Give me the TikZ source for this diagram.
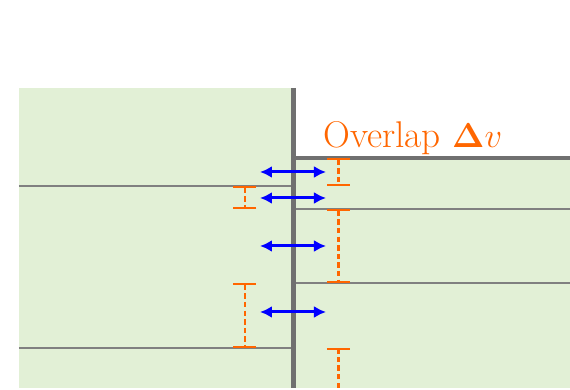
\documentclass[tikz,border=0pt]{standalone}
\usepackage{amsmath}
\usepackage{tikz}
\usetikzlibrary{arrows.meta}

\definecolor{blockgreen}{HTML}{E2F0D6}
\definecolor{gaporange}{HTML}{FF6600}
\definecolor{wallgray}{HTML}{707070}

\begin{document}
\begin{tikzpicture}[x=0.5pt, y=-0.5pt,
    block/.style = {fill=blockgreen},
    wall/.style = {draw=wallgray, line width=2.2pt},
    seam/.style = {draw=gray, line width=1pt},
    gap/.style = {draw=gaporange, line width=1.2pt, dash pattern=on 2.7pt off 1.6pt, {Bar[width=11.5pt]}-{Bar[width=11.5pt]}},
    slide/.style = {draw=blue, line width=1.5pt, {Latex[length=6pt,width=6pt]}-{Latex[length=6pt,width=6pt]}}]
            \useasboundingbox (0,0) rectangle (570,390);
            \fill[block] (19,88) rectangle (293,388);
            \fill[block] (293,158) rectangle (570,388);
            % seams of the two blocks
            \draw[seam] (19,186) -- (293,186);
            \draw[seam] (19,348) -- (293,348);
            \draw[seam] (293,209) -- (570,209);
            \draw[seam] (293,283) -- (570,283);
            \draw[wall] (293.5,88) -- (293.5,388);
            \draw[wall] (293,158) -- (570,158);
            \node[text=gaporange, anchor=base west, inner sep=0pt, font=\fontsize{18.6}{22}\selectfont] (label) at (323,148) {Overlap $\boldsymbol{\Delta} v$};
            % overlap markers
            \coordinate (r1) at (338.5,158);
            \coordinate (r2) at (338.5,186);
            \coordinate (l1) at (245,186);
            \coordinate (l2) at (245,209);
            \coordinate (r3) at (338.5,209);
            \coordinate (r4) at (338.5,283);
            \coordinate (l3) at (245,283);
            \coordinate (l4) at (245,348);
            \coordinate (r5) at (338.5,348);
            \coordinate (r6) at (338.5,388);
            \draw[gap] (r1) -- (r2);
            \draw[gap] (l1) -- (l2);
            \draw[gap] (r3) -- (r4);
            \draw[gap] (l3) -- (l4);
            \draw[gap, -{Bar[width=11.5pt]}] (r6) -- (r5);
            % slides across the wall
            \foreach \y/\i in {172/1, 198/2, 246/3, 312/4} {
                \coordinate (a\i) at (260,\y);
                \coordinate (b\i) at (326,\y);
                \draw[slide] (a\i) -- (b\i);
            }
        \end{tikzpicture}
\end{document}
